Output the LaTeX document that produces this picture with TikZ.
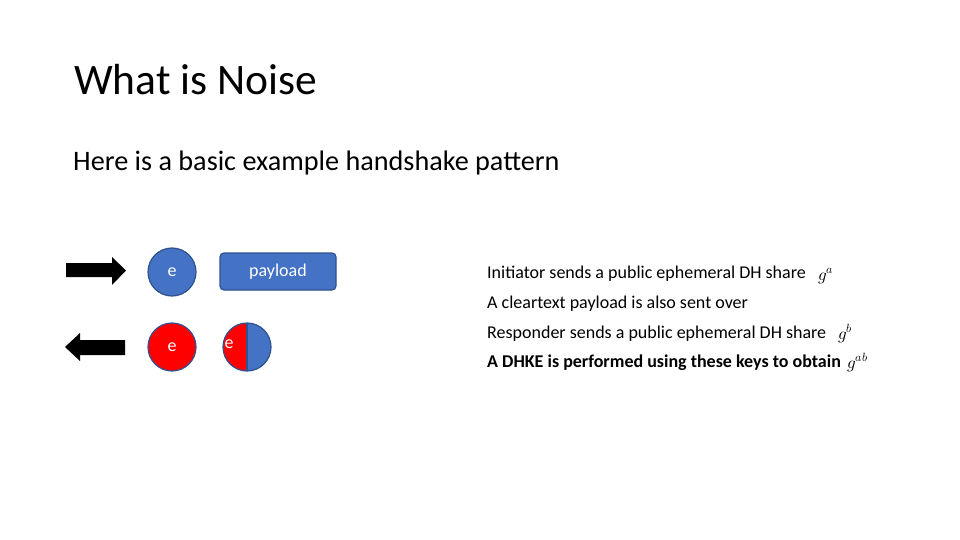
\documentclass[tikz,border=0pt]{standalone}
\usepackage{fontspec}
\setmainfont{Carlito}
\usepackage{unicode-math}
\setmathfont{Latin Modern Math}
\definecolor{pblue}{HTML}{4472C4}
\definecolor{pedge}{HTML}{2F528F}
\definecolor{pred}{HTML}{FF0000}
\begin{document}
\begin{tikzpicture}[x=1pt,y=-1pt,
  circ/.style={circle,draw=pedge,line width=1.2pt,minimum size=48pt,inner sep=0pt,text=white,font=\fontsize{18}{20}\selectfont},
  pbox/.style={rectangle,rounded corners=4pt,draw=pedge,line width=1.2pt,fill=pblue,minimum width=116pt,minimum height=37pt,text=white,font=\fontsize{18}{20}\selectfont},
  desc/.style={anchor=base west,inner sep=0pt,font=\fontsize{18}{20}\selectfont},
  mth/.style={anchor=base west,inner sep=0pt,font=\fontsize{17}{19}\selectfont}]
\useasboundingbox (0,0) rectangle (960,540);
\fill[white] (0,0) rectangle (960,540);
\node[anchor=base west,inner sep=0pt,font=\fontsize{43.5}{50}\selectfont] (title) at (74,95) {What is Noise};
\node[anchor=base west,inner sep=0pt,font=\fontsize{28.2}{32}\selectfont] (sub) at (73,171) {Here is a basic example handshake pattern};
% arrows
\fill[black] (66,263) -- (112,263) -- (112,257) -- (126,270.5) -- (112,285) -- (112,277) -- (66,277) -- cycle;
\fill[black] (125,340) -- (80,340) -- (80,333) -- (65,347) -- (80,361) -- (80,355) -- (125,355) -- cycle;
% row 1
\node[circ,fill=pblue] (e1) at (172,272) {e};
\node[pbox] (pay) at (278,271.5) {payload};
% row 2
\node[circ,fill=pred] (e2) at (172,347) {e};
\coordinate (hc) at (247,347);
\begin{scope}
  \clip (hc) circle[radius=24];
  \fill[pred] (223,323) rectangle (247,371);
  \fill[pblue] (247,323) rectangle (271,371);
\end{scope}
\draw[pedge,line width=1.2pt] (hc) circle[radius=24];
\draw[pedge,line width=1.2pt] (247,323) -- (247,371);
\node[anchor=center,inner sep=0pt,text=white,font=\fontsize{18}{20}\selectfont] (e3) at (229,344) {e};
% descriptions
\node[desc] (d1) at (487,278) {Initiator sends a public ephemeral DH share};
\node[mth] (m1) at (818,280) {$g^a$};
\node[desc] (d2) at (487,308) {A cleartext payload is also sent over};
\node[desc] (d3) at (487,338) {Responder sends a public ephemeral DH share};
\node[mth] (m3) at (838,339) {$g^b$};
\node[desc,font=\bfseries\fontsize{18}{20}\selectfont] (d4) at (487,367) {A DHKE is performed using these keys to obtain};
\node[mth] (m4) at (847,368) {$g^{ab}$};
\end{tikzpicture}
\end{document}
